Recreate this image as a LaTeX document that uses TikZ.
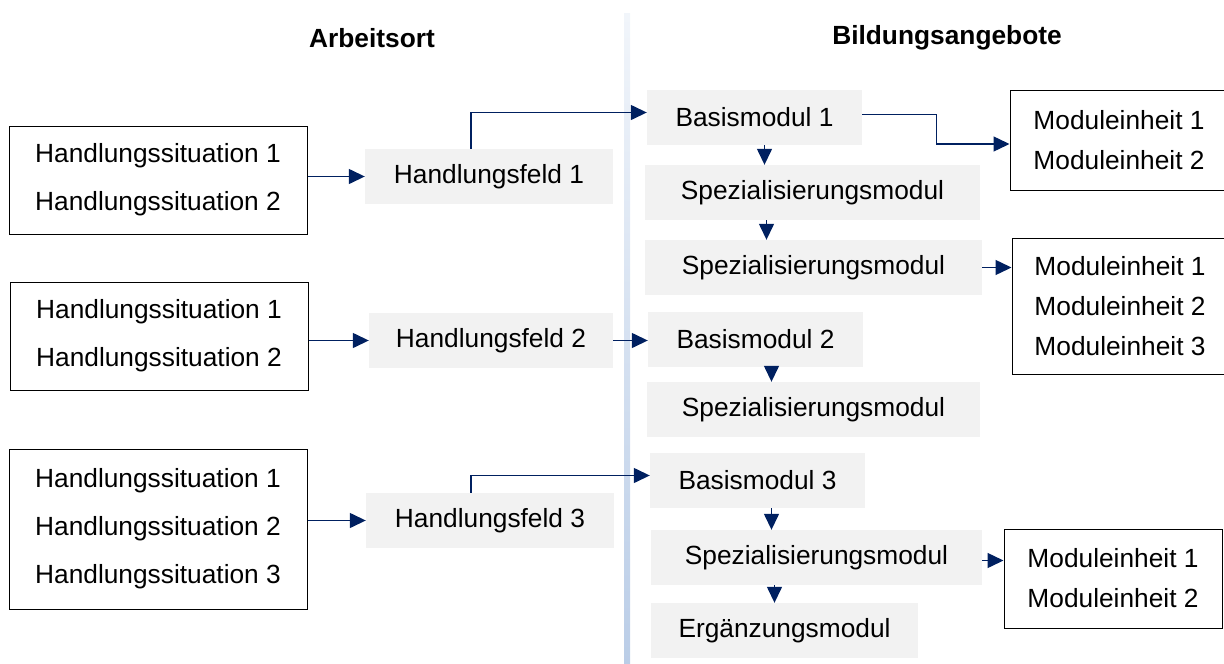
\documentclass[tikz,border=0pt]{standalone}
\usepackage{fontspec}
\setmainfont{Liberation Sans}
\usetikzlibrary{arrows.meta}
\definecolor{navy}{HTML}{002060}
\definecolor{boxgray}{HTML}{F2F2F2}
\definecolor{trenn}{HTML}{BACDE7}
\tikzset{
  sitbox/.style={draw, line width=1pt, fill=white, align=center, inner sep=0pt,
    font=\fontsize{26.3}{48}\selectfont},
  einbox/.style={draw, line width=1pt, fill=white, align=center, inner sep=0pt,
    font=\fontsize{26.3}{40}\selectfont},
  graybox/.style={fill=boxgray, inner sep=0pt, minimum height=55pt,
    font=\fontsize{26.3}{30}\selectfont},
  titel/.style={font=\fontsize{26.3}{30}\selectfont\bfseries},
  pfeil/.style={navy, line width=1.4pt, -{Triangle[length=16pt,width=15pt]}}
}
\begin{document}
\begin{tikzpicture}[x=1pt,y=-1pt]
\useasboundingbox (0,0) rectangle (1224,664);
% Trennlinie
\shade[top color=trenn!20, bottom color=trenn] (624,13) rectangle (630,664);
\node[titel] (arbeit) at (372,38) {Arbeitsort};
\node[titel] (bildung) at (947,38) {Bildungsangebote};
% links
\node[sitbox, minimum width=298pt, minimum height=108pt] (sit1) at (158,180) {Handlungssituation 1\\Handlungssituation 2};
\node[sitbox, minimum width=298pt, minimum height=108pt] (sit2) at (159,336) {Handlungssituation 1\\Handlungssituation 2};
\node[sitbox, minimum width=298pt, minimum height=160pt] (sit3) at (158,529) {Handlungssituation 1\\Handlungssituation 2\\Handlungssituation 3};
\node[graybox, minimum width=248pt] (feld1) at (489,176.5) {Handlungsfeld 1};
\node[graybox, minimum width=244pt] (feld2) at (491,340.5) {Handlungsfeld 2};
\node[graybox, minimum width=248pt] (feld3) at (490,520.5) {Handlungsfeld 3};
% rechts
\node[graybox, minimum width=215pt] (basis1) at (754.5,117.5) {Basismodul 1};
\node[graybox, minimum width=335pt] (spez1) at (812.5,192.5) {Spezialisierungsmodul};
\node[graybox, minimum width=337pt] (spez2) at (813.5,267.5) {Spezialisierungsmodul};
\node[graybox, minimum width=215pt] (basis2) at (755.5,339.5) {Basismodul 2};
\node[graybox, minimum width=333pt] (spez3) at (813.5,409.5) {Spezialisierungsmodul};
\node[graybox, minimum width=215pt] (basis3) at (757.5,480.5) {Basismodul 3};
\node[graybox, minimum width=331pt] (spez4) at (816.5,557.5) {Spezialisierungsmodul};
\node[graybox, minimum width=267pt] (ergaenz) at (784.5,630.5) {Ergänzungsmodul};
\node[einbox, minimum width=218pt, minimum height=100pt] (einheit1) at (1119,140) {Moduleinheit 1\\Moduleinheit 2};
\node[einbox, minimum width=216pt, minimum height=136pt] (einheit2) at (1120,306) {Moduleinheit 1\\Moduleinheit 2\\Moduleinheit 3};
\node[einbox, minimum width=218pt, minimum height=99pt] (einheit3) at (1113,578.5) {Moduleinheit 1\\Moduleinheit 2};
% Pfeile
\draw[pfeil] (feld1.west -| sit1.east) -- (feld1.west);
\draw[pfeil] (feld2.west -| sit2.east) -- (feld2.west);
\draw[pfeil] (feld3.west -| sit3.east) -- (feld3.west);
\draw[pfeil] ([xshift=-18pt]feld1.north) |- ([yshift=5pt]basis1.west);
\draw[pfeil] (feld2.east) -- (feld2.east -| basis2.west);
\draw[pfeil] ([xshift=-19pt]feld3.north) |- ([yshift=5pt]basis3.west);
\draw[pfeil] ([xshift=10pt]basis1.south) -- ([xshift=10pt]basis1.south |- spez1.north);
\draw[pfeil] ([xshift=-46pt]spez1.south) -- ([xshift=-46pt]spez1.south |- spez2.north);
\draw[pfeil] ([xshift=16pt]basis2.south) -- ([xshift=16pt]basis2.south |- spez3.north);
\draw[pfeil] ([xshift=14pt]basis3.south) -- ([xshift=14pt]basis3.south |- spez4.north);
\draw[pfeil] ([xshift=-42pt]spez4.south) -- ([xshift=-42pt]spez4.south |- ergaenz.north);
\draw[pfeil] ([yshift=3pt]basis1.east) -| ([xshift=-73pt,yshift=-4pt]einheit1.west) -- ([yshift=-4pt]einheit1.west);
\draw[pfeil] (spez2.east) -- (spez2.east -| einheit2.west);
\draw[pfeil] ([yshift=-3pt]spez4.east) -- ([yshift=-3pt]spez4.east -| einheit3.west);
\end{tikzpicture}
\end{document}
